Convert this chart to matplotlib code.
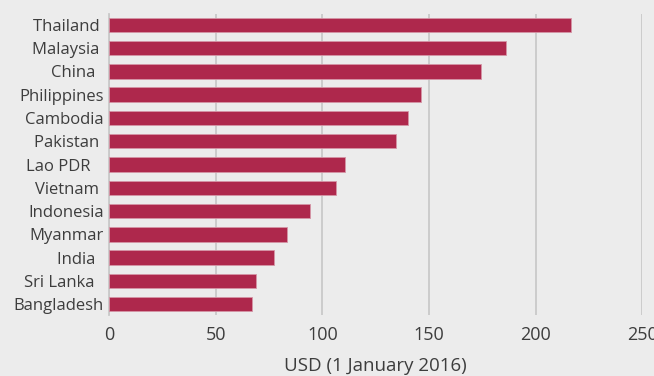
"""Horizontal bar chart: cost in USD by country (1 January 2016)."""

import matplotlib
matplotlib.use("Agg")
import matplotlib.pyplot as plt
import numpy as np

countries = ["Thailand ", "Malaysia ", "China  ", "Philippines", "Cambodia",
             "Pakistan ", "Lao PDR   ", "Vietnam ", "Indonesia", "Myanmar",
             "India  ", "Sri Lanka  ", "Bangladesh"]
usd = [216.7, 186.1, 174.2, 146.2, 140.3, 134.3, 110.4, 106.2, 94.3, 83.2,
       77.3, 68.7, 67.1]
xticks = [0, 50, 100, 150, 200, 250]

BG = "#ececec"
BAR = "#ae284c"
TXT = "#3d3d3d"
GRID = "#c9c9c9"

plt.rcParams["font.family"] = ["Open Sans", "DejaVu Sans"]

fig = plt.figure(figsize=(6.54, 3.76), dpi=100, facecolor=BG)
ax = fig.add_axes([0.1671, 0.1622, 0.8150, 0.8006], facecolor=BG)

y = np.arange(len(countries))
ax.barh(y, usd, height=0.62, color=BAR, edgecolor="#d596a6", linewidth=0.6,
        zorder=3)

ax.set_xlim(0, 250)
ax.set_ylim(len(countries) - 0.53, -0.47)
ax.set_xticks(xticks)
ax.set_xticklabels([str(t) for t in xticks])
ax.set_yticks(y)
ax.set_yticklabels(countries)

ax.grid(axis="x", color=GRID, linewidth=1.3, zorder=0)
ax.grid(axis="y", visible=False)
for side in ("top", "right", "bottom"):
    ax.spines[side].set_visible(False)
ax.spines["left"].set_color(GRID)
ax.spines["left"].set_linewidth(1.3)

ax.tick_params(axis="both", length=0, colors=TXT)
ax.tick_params(axis="x", labelsize=13, pad=8)
ax.tick_params(axis="y", labelsize=12, pad=4)
ax.set_xlabel("USD (1 January 2016)", fontsize=13.5, color=TXT, labelpad=9)

fig.savefig("out.png", dpi=100, facecolor=BG)
